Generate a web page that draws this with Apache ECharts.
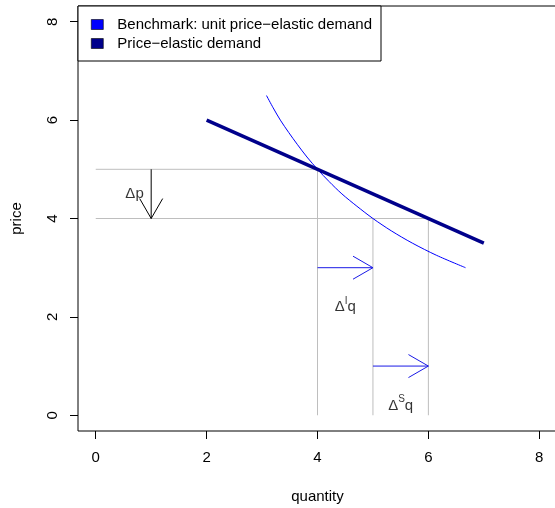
<!DOCTYPE html>
<html><head><meta charset="utf-8">
<script src="https://cdn.jsdelivr.net/npm/echarts@6/dist/echarts.min.js"></script>
<style>html,body{margin:0;padding:0;background:#fff}#c{width:555px;height:508px}</style>
</head><body><div id="c"></div>
<script>
// ---- data ----
const xTicks = [0, 2, 4, 6, 8];
const yTicks = [0, 2, 4, 6, 8];
const xTitle = 'quantity';
const yTitle = 'price';
const benchmarkName = 'Benchmark: unit price\u2212elastic demand';
const elasticName = 'Price\u2212elastic demand';
const benchmarkQ = [3.08, 3.2, 3.33, 3.48, 3.64, 3.81, 4, 4.21, 4.44, 4.71, 5, 5.33, 5.71, 6.15, 6.67];
const benchmarkP = [6.5, 6.25, 6, 5.75, 5.5, 5.25, 5, 4.75, 4.5, 4.25, 4, 3.75, 3.5, 3.25, 3];
const elasticQ = [2, 7];
const elasticP = [6, 3.5];
// guide segments: [x0, y0, x1, y1]
const guideSegments = [[0, 5, 4, 5], [0, 4, 6, 4], [4, 5, 4, 0], [5, 4, 5, 0], [6, 4, 6, 0]];
// arrows: [x0, y0, x1, y1]
const priceArrows = [[1, 5, 1, 4]];
const quantityArrows = [[4, 3, 5, 3], [5, 1, 6, 1]];
// annotation labels
const labelX = [0.7, 4.5, 5.5];
const labelY = [4.5, 2.2, 0.2];
const labelMain = ['\u0394', '\u0394', '\u0394'];
const labelSup = ['', 'I', 'S'];
const labelSuffix = ['p', 'q', 'q'];

// ---- styles ----
const FONT = '"Liberation Sans", Arial, Helvetica, sans-serif';
const FS = 15;
const GUIDE = '#bebebe';
const BLUE = '#0000ff';
const NAVY = '#00008b';
const ARROW_BLUE = '#1a1ae6';

function arrowSeries(data, color) {
  return {
    type: 'custom', z: 4, silent: true,
    encode: { x: [0, 2], y: [1, 3] },
    data: data,
    renderItem: function (params, api) {
      const p0 = api.coord([api.value(0), api.value(1)]);
      const p1 = api.coord([api.value(2), api.value(3)]);
      const ang = Math.atan2(p1[1] - p0[1], p1[0] - p0[0]);
      const L = 23, a = Math.PI / 6;
      const h1 = [p1[0] - L * Math.cos(ang - a), p1[1] - L * Math.sin(ang - a)];
      const h2 = [p1[0] - L * Math.cos(ang + a), p1[1] - L * Math.sin(ang + a)];
      return {
        type: 'group', children: [
          { type: 'line', shape: { x1: p0[0], y1: p0[1], x2: p1[0], y2: p1[1] }, style: { stroke: color, lineWidth: 1 } },
          { type: 'polyline', shape: { points: [h1, p1, h2] }, style: { stroke: color, fill: null, lineWidth: 1 } }
        ]
      };
    }
  };
}

const chart = echarts.init(document.getElementById('c'), null, { renderer: 'canvas' });
chart.setOption({
  animation: false,
  backgroundColor: '#fff',
  textStyle: { fontFamily: FONT },
  grid: { left: 78, top: 6, width: 479, height: 425, outerBoundsMode: 'none', containLabel: false, show: true, borderColor: '#000', borderWidth: 1, backgroundColor: 'transparent' },
  legend: {
    data: [benchmarkName, elasticName],
    orient: 'vertical', left: 78, top: 6,
    padding: [10, 9, 9, 13], itemGap: 2, itemWidth: 12, itemHeight: 10, icon: 'rect',
    borderColor: '#000', borderWidth: 1, borderRadius: 0, backgroundColor: '#fff',
    selectedMode: false,
    textStyle: { fontFamily: FONT, fontSize: FS, lineHeight: 17, color: '#000', padding: [0, 0, 0, 9] },
    itemStyle: { borderColor: '#000', borderWidth: 0.6 },
    z: 10
  },
  xAxis: {
    type: 'value', min: -0.32, max: 8.32,
    name: xTitle, nameLocation: 'middle', nameGap: 58,
    nameTextStyle: { fontFamily: FONT, fontSize: FS, color: '#000' },
    axisLine: { show: false, onZero: false },
    splitLine: { show: false },
    axisTick: { show: true, inside: false, length: 8, customValues: xTicks, lineStyle: { color: '#000', width: 1 } },
    axisLabel: { show: true, customValues: xTicks, margin: 19, fontFamily: FONT, fontSize: FS, color: '#000' }
  },
  yAxis: {
    type: 'value', min: -0.32, max: 8.32,
    name: yTitle, nameLocation: 'middle', nameGap: 54, nameRotate: 90,
    nameTextStyle: { fontFamily: FONT, fontSize: FS, color: '#000' },
    axisLine: { show: false, onZero: false },
    splitLine: { show: false },
    axisTick: { show: true, inside: false, length: 8, customValues: yTicks, lineStyle: { color: '#000', width: 1 } },
    axisLabel: { show: true, customValues: yTicks, rotate: 90, margin: 18, fontFamily: FONT, fontSize: FS, color: '#000' }
  },
  series: [
    {
      type: 'custom', z: 1, silent: true,
      encode: { x: [0, 2], y: [1, 3] },
      data: guideSegments,
      renderItem: function (params, api) {
        const p0 = api.coord([api.value(0), api.value(1)]);
        const p1 = api.coord([api.value(2), api.value(3)]);
        return { type: 'line', shape: { x1: p0[0], y1: p0[1], x2: p1[0], y2: p1[1] }, style: { stroke: GUIDE, lineWidth: 1 } };
      }
    },
    {
      name: benchmarkName, type: 'line', z: 3, smooth: 0.3, symbol: 'none', silent: true,
      color: BLUE, lineStyle: { color: BLUE, width: 1 },
      data: benchmarkQ.map((q, i) => [q, benchmarkP[i]])
    },
    {
      name: elasticName, type: 'line', z: 5, symbol: 'none', silent: true,
      color: NAVY, lineStyle: { color: NAVY, width: 3.5 },
      data: elasticQ.map((q, i) => [q, elasticP[i]])
    },
    arrowSeries(priceArrows, '#000'),
    arrowSeries(quantityArrows, ARROW_BLUE),
    {
      type: 'scatter', z: 6, silent: true, symbolSize: 0,
      data: labelX.map((x, i) => [x, labelY[i]]),
      label: {
        show: true, position: 'inside',
        formatter: function (p) {
          const i = p.dataIndex;
          return '{a|' + labelMain[i] + '}' + (labelSup[i] ? '{s|' + labelSup[i] + '}' : '') + '{a|' + labelSuffix[i] + '}';
        },
        rich: {
          a: { fontFamily: FONT, fontSize: FS, color: '#000', lineHeight: 22, verticalAlign: 'middle' },
          s: { fontFamily: FONT, fontSize: 10, color: '#000', lineHeight: 11, verticalAlign: 'top' }
        }
      }
    }
  ]
});
</script>
</body></html>
